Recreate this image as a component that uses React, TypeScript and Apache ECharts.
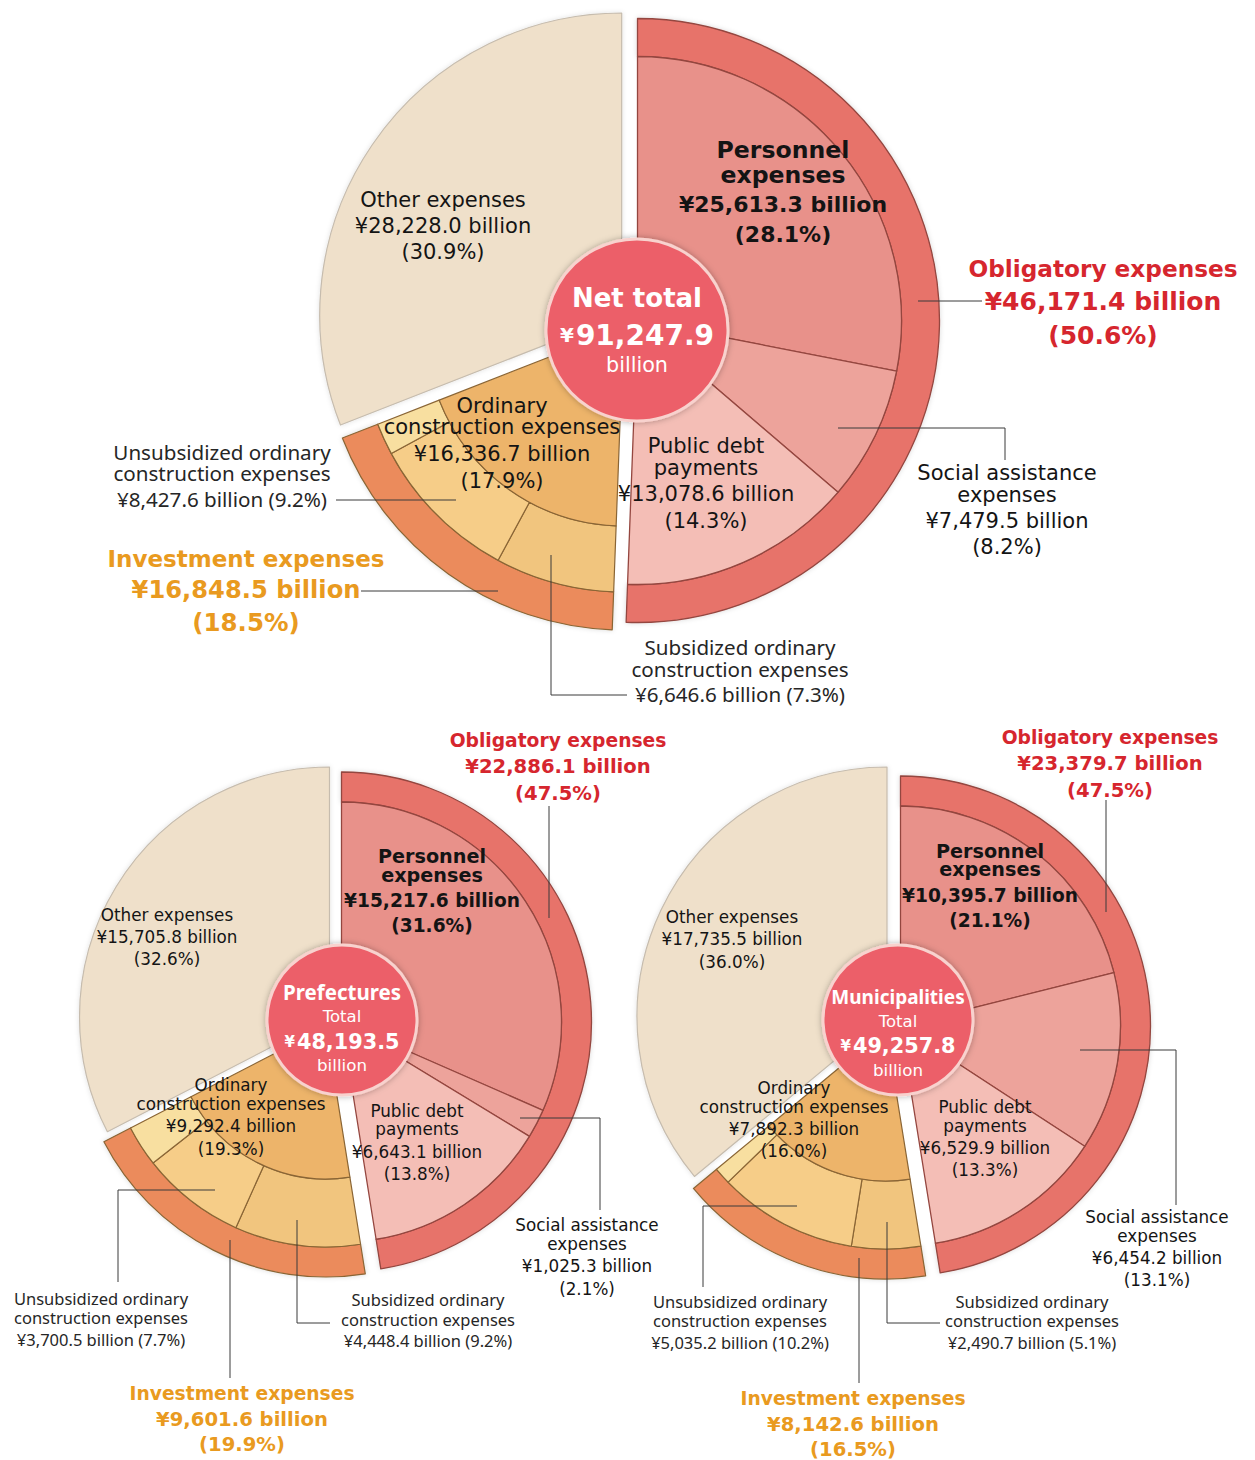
import React, { useEffect, useRef } from "react";
import * as echarts from "echarts";

// ---------------- DATA (¥ billion) ----------------
const centerTitles = ["Net total", "Prefectures", "Municipalities"];
const totals = [91247.9, 48193.5, 49257.8];
const personnel = [25613.3, 15217.6, 10395.7];
const personnelPct = [28.1, 31.6, 21.1];
const socialAssistance = [7479.5, 1025.3, 6454.2];
const socialPct = [8.2, 2.1, 13.1];
const publicDebt = [13078.6, 6643.1, 6529.9];
const publicDebtPct = [14.3, 13.8, 13.3];
const obligatory = [46171.4, 22886.1, 23379.7];
const obligatoryPct = [50.6, 47.5, 47.5];
const investment = [16848.5, 9601.6, 8142.6];
const investmentPct = [18.5, 19.9, 16.5];
const ordinaryConstruction = [16336.7, 9292.4, 7892.3];
const ordinaryPct = [17.9, 19.3, 16.0];
const subsidized = [6646.6, 4448.4, 2490.7];
const subsidizedPct = [7.3, 9.2, 5.1];
const unsubsidized = [8427.6, 3700.5, 5035.2];
const unsubsidizedPct = [9.2, 7.7, 10.2];
const otherExpenses = [28228.0, 15705.8, 17735.5];
const otherPct = [30.9, 32.6, 36.0];

// ---------------- LAYOUT ----------------
type Lay = {
  ob: number[]; inv: number[]; oth: number[]; circle: number[];
  R: number; r2: number; r1: number; rc: number;
};
const layouts: Lay[] = [
  { ob: [637.5, 320.5], inv: [623.6, 328], oth: [621.7, 315], circle: [637, 330], R: 302, r2: 264, r1: 198, rc: 91 },
  { ob: [341.5, 1022], inv: [326, 1027], oth: [329.5, 1017], circle: [342, 1020], R: 250, r2: 220, r1: 152, rc: 75 },
  { ob: [900.5, 1026], inv: [886, 1029], oth: [887, 1017], circle: [898, 1020], R: 250, r2: 220, r1: 152, rc: 75 },
];

const C = {
  other: "#EFE0CA",
  otherBorder: "#c6bcae",
  personnel: "#E8918A",
  social: "#EDA39B",
  debt: "#F4BEB6",
  obRing: "#E7736B",
  obBorder: "#94463F",
  ordinary: "#EDB46A",
  sub: "#F1C57E",
  unsub: "#F6CD88",
  sliver: "#F8DFA0",
  invRing: "#EB8B5B",
  invBorder: "#8A6535",
  circle: "#EC5F69",
  circleBorder: "#F8D2CE",
  red: "#D6262E",
  orange: "#E99A20",
  text: "#141414",
};

const WIDE = '"DejaVu Sans", Verdana, sans-serif';
const NARROW = '"Noto Sans", "Open Sans", sans-serif';
const fmt = (v: number) =>
  v.toLocaleString("en-US", { minimumFractionDigits: 1, maximumFractionDigits: 1 });
const yen = (v: number) => `¥${fmt(v)} billion`;
const pct = (p: number) => `(${p.toFixed(1)}%)`;

const filler = (v: number) => ({
  value: v,
  name: "",
  itemStyle: { color: "rgba(0,0,0,0)", borderWidth: 0, shadowBlur: 0 },
});

function pie(center: number[], radius: number[], startFrac: number, data: any[], z = 1) {
  return {
    type: "pie",
    center,
    radius,
    startAngle: 90 - startFrac * 360,
    clockwise: true,
    silent: true,
    z,
    avoidLabelOverlap: false,
    label: { show: false },
    labelLine: { show: false },
    emphasis: { disabled: true },
    data,
  };
}

function buildSeries(i: number) {
  const L = layouts[i];
  const tot = totals[i];
  const invStart = obligatory[i] / tot;
  const othStart = (obligatory[i] + investment[i]) / tot;
  const sliver = investment[i] - subsidized[i] - unsubsidized[i];
  const obB = { borderColor: C.obBorder, borderWidth: 1.3 };
  const invB = { borderColor: C.invBorder, borderWidth: 1.2 };
  return [
    pie(L.oth, [0, L.R], othStart, [
      { value: otherExpenses[i], name: "Other expenses", itemStyle: { color: C.other, borderColor: C.otherBorder, borderWidth: 1.2, shadowBlur: 5, shadowColor: "rgba(0,0,0,0.12)" } },
      filler(tot - otherExpenses[i]),
    ]),
    pie(L.inv, [L.r2, L.R], invStart, [
      { value: investment[i], name: "Investment expenses", itemStyle: { color: C.invRing, ...invB, shadowBlur: 5, shadowColor: "rgba(0,0,0,0.15)" } },
      filler(tot - investment[i]),
    ]),
    pie(L.inv, [L.r1, L.r2], invStart, [
      { value: subsidized[i], name: "Subsidized ordinary construction expenses", itemStyle: { color: C.sub, ...invB } },
      { value: unsubsidized[i], name: "Unsubsidized ordinary construction expenses", itemStyle: { color: C.unsub, ...invB } },
      { value: sliver, name: "Other investment", itemStyle: { color: C.sliver, ...invB } },
      filler(tot - investment[i]),
    ]),
    pie(L.inv, [0, L.r1], invStart, [
      { value: investment[i], name: "Ordinary construction expenses", itemStyle: { color: C.ordinary, ...invB } },
      filler(tot - investment[i]),
    ]),
    pie(L.ob, [L.r2, L.R], 0, [
      { value: obligatory[i], name: "Obligatory expenses", itemStyle: { color: C.obRing, ...obB, shadowBlur: 5, shadowColor: "rgba(0,0,0,0.15)" } },
      filler(tot - obligatory[i]),
    ]),
    pie(L.ob, [0, L.r2], 0, [
      { value: personnel[i], name: "Personnel expenses", itemStyle: { color: C.personnel, ...obB } },
      { value: socialAssistance[i], name: "Social assistance expenses", itemStyle: { color: C.social, ...obB } },
      { value: publicDebt[i], name: "Public debt payments", itemStyle: { color: C.debt, ...obB } },
      filler(tot - personnel[i] - socialAssistance[i] - publicDebt[i]),
    ]),
    pie(L.circle, [0, L.rc], 0, [
      { value: tot, name: centerTitles[i], itemStyle: { color: C.circle, borderColor: C.circleBorder, borderWidth: 3, shadowBlur: 6, shadowColor: "rgba(0,0,0,0.3)" } },
    ], 5),
  ];
}

// text helpers
function T(x: number, y: number, text: string, size: number, weight: string | number = "normal", fill = C.text, family = WIDE) {
  return {
    type: "text",
    x,
    y,
    z: 100,
    silent: true,
    style: {
      text,
      fill,
      fontSize: size,
      fontWeight: weight,
      fontFamily: family,
      lineHeight: Math.round(size),
      align: "center",
      verticalAlign: "middle",
    },
  };
}
function lines(x: number, ys: number[], texts: string[], sizes: number[], weight: any = "normal", fill = C.text, family = WIDE) {
  return texts.map((t, k) => T(x, ys[k], t, sizes[k] ?? sizes[sizes.length - 1], weight, fill, family));
}
function leader(points: number[][]) {
  return { type: "polyline", z: 90, silent: true, shape: { points }, style: { stroke: "#3a3a3a", lineWidth: 1, fill: "none" } };
}

type TP = {
  other: [number, number[]]; personnel: [number, number[]]; oblig: [number, number[]];
  social: [number, number[]]; debt: [number, number[]]; ordinary: [number, number[]];
  unsub: [number, number[]]; invest: [number, number[]]; sub: [number, number[]];
  circle: [number, number[]];
  s: number; ns: number; hs: number[]; gs: number[]; igs: number[]; cs: number[]; titleFont: string; titleSize: number;
  leaders: number[][][];
};
const textPos: TP[] = [
  {
    other: [443, [200, 226, 252]], personnel: [783, [150, 175, 204, 234]], oblig: [1103, [268, 301, 335]],
    social: [1007, [473, 495, 521, 547]], debt: [706, [446, 468, 494, 521]], ordinary: [502, [406, 427, 454, 481]],
    unsub: [222, [452, 473, 499]], invest: [246, [559, 590, 622]], sub: [740, [647, 669, 694]],
    circle: [637, [298, 335, 365]],
    s: 21, ns: 20.6, hs: [23.6, 23.6, 22, 22], gs: [23.2, 25, 25], igs: [23, 24.2, 24.5], cs: [0, 28, 20.7],
    titleFont: WIDE, titleSize: 26,
    leaders: [
      [[918, 301], [982, 301]],
      [[838, 428], [1005, 428], [1005, 460]],
      [[336, 500], [456, 500]],
      [[361, 591], [498, 591]],
      [[551, 555], [551, 695], [627, 695]],
    ],
  },
  {
    other: [167, [915, 937, 959]], personnel: [432, [856, 875, 900, 925]], oblig: [558, [740, 766, 793]],
    social: [587, [1225, 1244, 1266, 1289]], debt: [417, [1111, 1129, 1152, 1174]], ordinary: [231, [1085, 1104, 1126, 1149]],
    unsub: [101, [1298, 1317, 1339]], invest: [242, [1393, 1419, 1444]], sub: [428, [1299, 1319, 1340]],
    circle: [342, [992, 1016, 1042, 1065]],
    s: 16.8, ns: 16.5, hs: [19.2, 19.2, 18.6, 18.6], gs: [18.7, 19.6, 19.6], igs: [18.7, 19.6, 19.6], cs: [0, 16.5, 20.8, 16.7],
    titleFont: NARROW, titleSize: 20.5,
    leaders: [
      [[549, 806], [549, 918]],
      [[520, 1118], [600, 1118], [600, 1210]],
      [[215, 1190], [118, 1190], [118, 1282]],
      [[297, 1220], [297, 1323], [330, 1323]],
      [[230, 1240], [230, 1378]],
    ],
  },
  {
    other: [732, [917, 939, 962]], personnel: [990, [851, 869, 895, 920]], oblig: [1110, [737, 763, 790]],
    social: [1157, [1217, 1236, 1258, 1280]], debt: [985, [1107, 1126, 1148, 1170]], ordinary: [794, [1088, 1107, 1129, 1151]],
    unsub: [740, [1301, 1320, 1342]], invest: [853, [1398, 1424, 1449]], sub: [1032, [1301, 1320, 1342]],
    circle: [898, [997, 1021, 1046, 1070]],
    s: 16.8, ns: 16.5, hs: [19.2, 19.2, 18.6, 18.6], gs: [18.7, 19.6, 19.6], igs: [18.7, 19.6, 19.6], cs: [0, 16.5, 20.8, 16.7],
    titleFont: NARROW, titleSize: 19,
    leaders: [
      [[1106, 800], [1106, 912]],
      [[1080, 1050], [1176, 1050], [1176, 1205]],
      [[797, 1206], [703, 1206], [703, 1287]],
      [[887, 1222], [887, 1323], [940, 1323]],
      [[859, 1258], [859, 1383]],
    ],
  },
];

function buildGraphics(i: number) {
  const P = textPos[i];
  const s = P.s;
  const g: any[] = [];
  g.push(...lines(P.other[0], P.other[1], ["Other expenses", yen(otherExpenses[i]), pct(otherPct[i])], [s]));
  g.push(...lines(P.personnel[0], P.personnel[1], ["Personnel", "expenses", yen(personnel[i]), pct(personnelPct[i])], P.hs, "bold"));
  g.push(...lines(P.oblig[0], P.oblig[1], ["Obligatory expenses", yen(obligatory[i]), pct(obligatoryPct[i])], P.gs, "bold", C.red));
  g.push(...lines(P.social[0], P.social[1], ["Social assistance", "expenses", yen(socialAssistance[i]), pct(socialPct[i])], [s]));
  g.push(...lines(P.debt[0], P.debt[1], ["Public debt", "payments", yen(publicDebt[i]), pct(publicDebtPct[i])], [s]));
  g.push(...lines(P.ordinary[0], P.ordinary[1], ["Ordinary", "construction expenses", yen(ordinaryConstruction[i]), pct(ordinaryPct[i])], [s]));
  g.push(...lines(P.unsub[0], P.unsub[1], ["Unsubsidized ordinary", "construction expenses", `${yen(unsubsidized[i])} ${pct(unsubsidizedPct[i])}`], [P.ns], "normal", "#262626", NARROW));
  g.push(...lines(P.sub[0], P.sub[1], ["Subsidized ordinary", "construction expenses", `${yen(subsidized[i])} ${pct(subsidizedPct[i])}`], [P.ns], "normal", "#262626", NARROW));
  g.push(...lines(P.invest[0], P.invest[1], ["Investment expenses", yen(investment[i]), pct(investmentPct[i])], P.igs, "bold", C.orange));
  // center circle
  const cx = P.circle[0];
  const cy = P.circle[1];
  const cs = P.cs;
  const vIdx = i === 0 ? 1 : 2;
  const vs = cs[vIdx];
  const valueText = {
    type: "text", x: cx, y: cy[vIdx], z: 101, silent: true,
    style: {
      text: `{y|¥}{v|${fmt(totals[i])}}`,
      align: "center", verticalAlign: "middle",
      rich: {
        y: { fill: "#fff", fontSize: Math.round(vs * 0.72), fontWeight: "bold", fontFamily: WIDE, padding: [0, 2, 0, 0] },
        v: { fill: "#fff", fontSize: vs, fontWeight: "bold", fontFamily: WIDE },
      },
    },
  };
  g.push(T(cx, cy[0], centerTitles[i], P.titleSize, "bold", "#fff", P.titleFont));
  if (i === 0) {
    g.push(valueText);
    g.push(T(cx, cy[2], "billion", cs[2], "normal", "#fff"));
  } else {
    g.push(T(cx, cy[1], "Total", cs[1], "normal", "#fff"));
    g.push(valueText);
    g.push(T(cx, cy[3], "billion", cs[3], "normal", "#fff"));
  }
  P.leaders.forEach((pts) => g.push(leader(pts)));
  return g;
}

export default function App() {
  const ref = useRef<HTMLDivElement>(null);
  useEffect(() => {
    if (!ref.current) return;
    const chart = echarts.init(ref.current, undefined, { renderer: "svg" });
    const series = [0, 1, 2].flatMap((i) => buildSeries(i));
    const graphic = [0, 1, 2].flatMap((i) => buildGraphics(i));
    chart.setOption({
      animation: false,
      backgroundColor: "#ffffff",
      series,
      graphic,
    });
    return () => chart.dispose();
  }, []);
  return (
    <div
      ref={ref}
      style={{ position: "absolute", left: 0, top: 0, width: 1255, height: 1460, background: "#fff" }}
    />
  );
}
